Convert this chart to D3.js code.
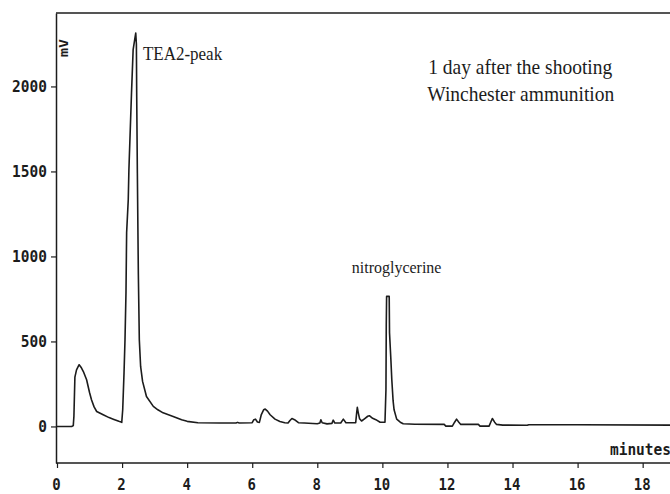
<!DOCTYPE html>
<html>
<head>
<meta charset="utf-8">
<script src="https://cdn.jsdelivr.net/npm/d3@7"></script>
<style>
  body { margin: 0; background: #fff; }
  svg { display: block; }
</style>
</head>
<body>
<svg id="chart" width="670" height="494"></svg>
<script>
// chromatogram trace (minutes, mV)
const times = [0.00, 0.45, 0.50, 0.52, 0.55, 0.60, 0.68, 0.75, 0.81, 0.91, 1.00, 1.06, 1.14, 1.22, 1.42, 1.60, 1.73, 1.90, 1.99,
    2.02, 2.06, 2.09, 2.12, 2.14, 2.19, 2.21, 2.29, 2.34, 2.40, 2.42, 2.44, 2.45, 2.47, 2.50, 2.53, 2.57, 2.63, 2.75, 2.96,
    3.10, 3.26, 3.57, 3.83, 4.00, 4.33, 5.00, 5.50, 5.55, 5.60, 6.00, 6.05, 6.10, 6.16, 6.22, 6.28, 6.35, 6.40, 6.47, 6.55,
    6.70, 6.85, 7.00, 7.10, 7.16, 7.22, 7.30, 7.42, 7.60, 8.00, 8.08, 8.11, 8.15, 8.30, 8.45, 8.49, 8.54, 8.72, 8.80, 8.88,
    9.18, 9.21, 9.23, 9.26, 9.30, 9.36, 9.45, 9.55, 9.60, 9.70, 9.80, 9.93, 10.08, 10.11, 10.12, 10.13, 10.21, 10.22, 10.26,
    10.29, 10.33, 10.36, 10.44, 10.55, 10.64, 11.00, 11.90, 11.95, 12.15, 12.22, 12.28, 12.35, 12.41, 12.95, 13.00, 13.28,
    13.33, 13.38, 13.45, 13.51, 13.70, 14.45, 14.50, 16.00, 18.84];
const signal = [0, 0, 5, 60, 290, 333, 363, 345, 323, 275, 200, 157, 115, 88, 69, 52, 43, 30, 24,
    100, 315, 510, 785, 1140, 1333, 1510, 1962, 2216, 2290, 2314, 2250, 1940, 1490, 900, 510, 353, 265, 176, 118,
    98, 80, 59, 39, 30, 22, 20, 20, 24, 20, 22, 40, 43, 26, 24, 70, 98, 102, 90, 69,
    43, 29, 22, 20, 35, 47, 40, 22, 20, 16, 20, 39, 22, 15, 18, 37, 20, 20, 43, 22,
    22, 80, 112, 80, 45, 32, 45, 60, 63, 48, 40, 25, 25, 216, 600, 765, 765, 550, 400,
    275, 150, 98, 43, 25, 16, 13, 12, 2, 2, 25, 43, 25, 12, 12, 2, 2,
    25, 47, 25, 12, 8, 7, 10, 10, 8];
const xTicks = [0, 2, 4, 6, 8, 10, 12, 14, 16, 18];
const yTicks = [0, 500, 1000, 1500, 2000];
const notes = [
    {text: "TEA2-peak", t: 2.64, v: 2155, size: 17},
    {text: "nitroglycerine", t: 9.06, v: 902, size: 16},
    {text: "1 day after the shooting", t: 11.41, v: 2075, size: 19.5},
    {text: "Winchester ammunition", t: 11.38, v: 1913, size: 19.5}
];

const chart = d3.select("#chart");
const plotLeft = 56, plotRight = 670, plotTop = 13, plotBottom = 463;
const monoFont = "'DejaVu Sans Mono', monospace";
const ink = "#1c1c1c";

const x = d3.scaleLinear().domain([0, 18.84]).range([57, plotRight]);
const y = d3.scaleLinear().domain([-215, 2432]).range([plotBottom, plotTop]);

// frame: top border
chart.append("line")
    .attr("x1", plotLeft).attr("x2", plotRight)
    .attr("y1", plotTop).attr("y2", plotTop)
    .attr("stroke", ink).attr("stroke-width", 1.5);

const yAxis = chart.append("g")
    .attr("transform", `translate(${plotLeft},0)`)
    .call(d3.axisLeft(y).tickValues(yTicks).tickSize(5).tickPadding(4).tickSizeOuter(0).tickFormat(d3.format("d")));
yAxis.select(".domain").attr("stroke", ink).attr("stroke-width", 1.5);
yAxis.selectAll(".tick line").attr("stroke", ink).attr("stroke-width", 1.2);
yAxis.selectAll(".tick text")
    .attr("fill", ink)
    .attr("font-family", monoFont)
    .attr("font-weight", "bold")
    .attr("font-size", 14.5)
    .attr("transform", "scale(1,1.15)");

const xAxis = chart.append("g")
    .attr("transform", `translate(0,${plotBottom})`)
    .call(d3.axisBottom(x).tickValues(xTicks).tickSize(5).tickSizeOuter(0).tickFormat(d3.format("d")));
xAxis.select(".domain").attr("d", `M${plotLeft},0H${plotRight}`).attr("stroke", ink).attr("stroke-width", 1.5);
xAxis.selectAll(".tick line").attr("stroke", ink).attr("stroke-width", 1.2);
xAxis.selectAll(".tick text")
    .attr("fill", ink)
    .attr("y", 0)
    .attr("dy", 0)
    .attr("font-family", monoFont)
    .attr("font-weight", "bold")
    .attr("font-size", 14)
    .attr("transform", "translate(-1,26.5) scale(1,1.12)");

// axis names
chart.append("text")
    .attr("transform", `translate(${plotLeft + 12},57) rotate(-90) scale(1.15,1)`)
    .attr("font-family", monoFont)
    .attr("font-weight", "bold")
    .attr("font-size", 13)
    .attr("fill", ink)
    .text("mV");

chart.append("text")
    .attr("transform", `translate(${plotRight + 1},455) scale(1,1.15)`)
    .attr("text-anchor", "end")
    .attr("font-family", monoFont)
    .attr("font-weight", "bold")
    .attr("font-size", 14.5)
    .attr("fill", ink)
    .text("minutes");

// trace
const points = times.map((t, i) => [t, signal[i]]);
const line = d3.line()
    .x(d => x(d[0]))
    .y(d => y(d[1]));

chart.append("path")
    .datum(points)
    .attr("fill", "none")
    .attr("stroke", ink)
    .attr("stroke-width", 1.6)
    .attr("stroke-linejoin", "round")
    .attr("d", line);

// annotations
chart.selectAll(".note")
    .data(notes)
    .enter()
    .append("text")
    .attr("class", "note")
    .attr("transform", d => `translate(${x(d.t)},${y(d.v)}) scale(1,1.1)`)
    .attr("font-family", "'Liberation Serif', 'Times New Roman', serif")
    .attr("font-size", d => d.size)
    .attr("fill", ink)
    .text(d => d.text);
</script>
</body>
</html>
